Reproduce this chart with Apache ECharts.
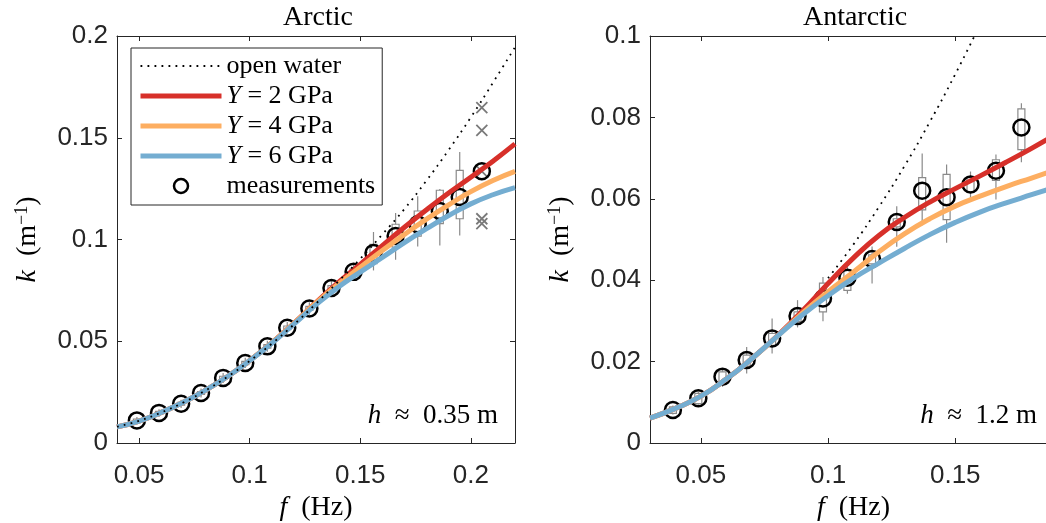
<!DOCTYPE html>
<html>
<head>
<meta charset="utf-8">
<script src="https://cdn.jsdelivr.net/npm/echarts@6/dist/echarts.min.js"></script>
<style>
  html, body { margin: 0; padding: 0; background: #fff; }
  #chart { width: 1046px; height: 523px; }
</style>
</head>
<body>
<div id="chart"></div>
<script>
// ---------- Arctic panel (h ~ 0.35 m) ----------
const arcticCurveFreq = [0.04, 0.05, 0.06, 0.07, 0.08, 0.09, 0.10, 0.11, 0.12, 0.13,
                         0.14, 0.15, 0.16, 0.17, 0.18, 0.19, 0.20, 0.21, 0.22];
const arcticOpenWater = [0.0080, 0.0109, 0.0150, 0.0199, 0.0258, 0.0326, 0.0403, 0.0488, 0.0582, 0.0685,
                         0.0793, 0.0905, 0.1025, 0.1150, 0.1290, 0.1440, 0.1600, 0.1770, 0.1945];
const arcticY2 = [0.0079, 0.0108, 0.0150, 0.0200, 0.0259, 0.0327, 0.0405, 0.0492, 0.0588, 0.0690,
                  0.0788, 0.0878, 0.0970, 0.1060, 0.1146, 0.1228, 0.1306, 0.1385, 0.1470];
const arcticY4 = [0.0079, 0.0108, 0.0150, 0.0200, 0.0259, 0.0327, 0.0405, 0.0492, 0.0588, 0.0688,
                  0.0780, 0.0864, 0.0946, 0.1025, 0.1100, 0.1170, 0.1235, 0.1290, 0.1335];
const arcticY6 = [0.0079, 0.0108, 0.0150, 0.0200, 0.0259, 0.0327, 0.0405, 0.0490, 0.0584, 0.0680,
                  0.0765, 0.0840, 0.0912, 0.0985, 0.1053, 0.1118, 0.1175, 0.1220, 0.1255];

const arcticMeasFreq = [0.049, 0.059, 0.069, 0.078, 0.088, 0.098, 0.108, 0.117, 0.127,
                        0.137, 0.147, 0.156, 0.166, 0.176, 0.186, 0.195, 0.205];
const arcticMeasK = [0.0111, 0.0148, 0.0193, 0.0246, 0.0320, 0.0393, 0.0475, 0.0566, 0.0661,
                     0.0762, 0.0841, 0.0934, 0.1017, 0.1075, 0.1140, 0.1209, 0.1335];
// box statistics per frequency bin: whisker low, lower quartile, upper quartile, whisker high
const arcticWhiskerLow = [0.0092, 0.0128, 0.0172, 0.0224, 0.0295, 0.0368, 0.0448, 0.0538, 0.0630,
                          0.0728, 0.0800, 0.0848, 0.0901, 0.0966, 0.0971, 0.1020, null];
const arcticQ1 = [0.0104, 0.0141, 0.0186, 0.0239, 0.0312, 0.0385, 0.0466, 0.0557, 0.0651,
                  0.0751, 0.0826, 0.0881, 0.0963, 0.1016, 0.1078, 0.1102, null];
const arcticQ3 = [0.0118, 0.0155, 0.0200, 0.0253, 0.0328, 0.0401, 0.0484, 0.0575, 0.0671,
                  0.0773, 0.0856, 0.0976, 0.1075, 0.1140, 0.1242, 0.1340, null];
const arcticWhiskerHigh = [0.0128, 0.0166, 0.0213, 0.0268, 0.0344, 0.0419, 0.0502, 0.0594, 0.0692,
                           0.0796, 0.0885, 0.1037, 0.1130, 0.1212, 0.1248, 0.1430, null];
const arcticOutlierFreq = [0.205, 0.205, 0.205, 0.205, 0.205];
const arcticOutlierK = [0.1648, 0.1536, 0.1335, 0.1102, 0.1078];

// ---------- Antarctic panel (h ~ 1.2 m) ----------
const antarcticCurveFreq = [0.03, 0.04, 0.05, 0.06, 0.07, 0.08, 0.09, 0.10, 0.11,
                            0.12, 0.13, 0.14, 0.15, 0.16, 0.17, 0.18, 0.19];
const antarcticY2 = [0.0061, 0.0085, 0.0115, 0.0157, 0.0207, 0.0263, 0.0325, 0.0392, 0.0455,
                     0.0510, 0.0554, 0.0592, 0.0625, 0.0657, 0.0690, 0.0724, 0.0760];
const antarcticY4 = [0.0061, 0.0085, 0.0115, 0.0157, 0.0207, 0.0262, 0.0320, 0.0372, 0.0420,
                     0.0470, 0.0514, 0.0551, 0.0582, 0.0607, 0.0630, 0.0651, 0.0672];
const antarcticY6 = [0.0061, 0.0085, 0.0115, 0.0157, 0.0207, 0.0262, 0.0315, 0.0362, 0.0405,
                     0.0442, 0.0478, 0.0512, 0.0542, 0.0568, 0.0590, 0.0610, 0.0630];
const antarcticOpenFreq = [0.10, 0.11, 0.12, 0.13, 0.14, 0.15, 0.16];
const antarcticOpenWater = [0.0405, 0.0488, 0.0580, 0.0680, 0.0789, 0.0906, 0.1031];

const antarcticMeasFreq = [0.039, 0.049, 0.0585, 0.068, 0.078, 0.088, 0.098, 0.1076,
                           0.1173, 0.127, 0.137, 0.1466, 0.156, 0.166, 0.176];
const antarcticMeasK = [0.0081, 0.0110, 0.0163, 0.0204, 0.0257, 0.0312, 0.0355, 0.0406,
                        0.0452, 0.0543, 0.0620, 0.0604, 0.0635, 0.0669, 0.0775];
const antarcticWhiskerLow = [0.0070, 0.0094, 0.0138, 0.0171, 0.0220, 0.0284, 0.0299, 0.0367,
                             0.0392, 0.0482, 0.0535, 0.0492, 0.0596, 0.0598, 0.0690];
const antarcticQ1 = [0.0073, 0.0097, 0.0151, 0.0189, 0.0240, 0.0298, 0.0322, 0.0375,
                     0.0440, 0.0531, 0.0573, 0.0549, 0.0617, 0.0645, 0.0721];
const antarcticQ3 = [0.0089, 0.0122, 0.0175, 0.0216, 0.0269, 0.0322, 0.0393, 0.0425,
                     0.0462, 0.0551, 0.0652, 0.0660, 0.0652, 0.0696, 0.0821];
const antarcticWhiskerHigh = [0.0092, 0.0126, 0.0183, 0.0236, 0.0306, 0.0351, 0.0408, 0.0444,
                              0.0483, 0.0582, 0.0711, 0.0684, 0.0667, 0.0709, 0.0835];

// ---------- axis ticks ----------
const arcticFreqTicks = [0.05, 0.1, 0.15, 0.2];
const antarcticFreqTicks = [0.05, 0.1, 0.15];

// ---------- styling ----------
const SERIF = '"Liberation Serif", "DejaVu Serif", serif';
const SANS = '"Liberation Sans", Arial, Helvetica, sans-serif';
const AXIS_COLOR = '#262626';
const RED = '#d7302a';
const ORANGE = '#fdae61';
const BLUE = '#74add1';
const BOX_GRAY = '#8a8a8a';
const DOTS = [1.8, 5.2];

const NAMES = {
  open: 'open water',
  y2: 'Y = 2 GPa',
  y4: 'Y = 4 GPa',
  y6: 'Y = 6 GPa',
  meas: 'measurements'
};
const legendText = {
  'open water': 'open water',
  'Y = 2 GPa': '{i|Y} = 2 GPa',
  'Y = 4 GPa': '{i|Y} = 4 GPa',
  'Y = 6 GPa': '{i|Y} = 6 GPa',
  'measurements': 'measurements'
};

const pairs = (xs, ys) => xs.map((x, i) => [x, ys[i]]);
function boxData(freq, lo, q1, q3, hi) {
  const out = [];
  freq.forEach((f, i) => {
    if (lo[i] != null) out.push([f, lo[i], q1[i], q3[i], hi[i]]);
  });
  return out;
}

// box-and-whisker glyph for one frequency bin
function renderBox(params, api) {
  const f = api.value(0);
  const pLo = api.coord([f, api.value(1)]);
  const pQ1 = api.coord([f, api.value(2)]);
  const pQ3 = api.coord([f, api.value(3)]);
  const pHi = api.coord([f, api.value(4)]);
  const half = 3.5;
  const st = { stroke: BOX_GRAY, lineWidth: 1.2, fill: 'none' };
  return {
    type: 'group',
    children: [
      { type: 'line', shape: { x1: pLo[0], y1: pLo[1], x2: pQ1[0], y2: pQ1[1] }, style: st },
      { type: 'line', shape: { x1: pQ3[0], y1: pQ3[1], x2: pHi[0], y2: pHi[1] }, style: st },
      { type: 'rect', shape: { x: pQ1[0] - half, y: pQ3[1], width: 2 * half, height: pQ1[1] - pQ3[1] }, style: st }
    ]
  };
}

const axisLineStyle = { color: AXIS_COLOR, width: 1 };
const tickLabelStyle = { fontFamily: SANS, fontSize: 26, color: AXIS_COLOR };
const nameRich = {
  i: { fontFamily: SERIF, fontStyle: 'italic', fontSize: 28, color: '#000' },
  s: { fontFamily: SERIF, fontSize: 18, color: '#000', verticalAlign: 'top', lineHeight: 18 }
};
const fmtFreq = v => String(+Number(v).toFixed(3));

function xAxes(gridIndex, min, max, ticks) {
  return [
    {
      type: 'value', gridIndex, min, max, position: 'bottom',
      axisLine: { onZero: false, lineStyle: axisLineStyle },
      axisTick: { inside: true, length: 5, customValues: ticks, lineStyle: axisLineStyle },
      axisLabel: Object.assign({ customValues: ticks, margin: 20, formatter: fmtFreq }, tickLabelStyle),
      splitLine: { show: false },
      name: '{i|f}\u2002(Hz)', nameLocation: 'middle', nameGap: 50,
      nameTextStyle: { fontFamily: SERIF, fontSize: 28, color: '#000', rich: nameRich }
    },
    {
      type: 'value', gridIndex, min, max, position: 'top',
      axisLine: { onZero: false, lineStyle: axisLineStyle },
      axisTick: { inside: true, length: 5, customValues: ticks, lineStyle: axisLineStyle },
      axisLabel: { show: false },
      splitLine: { show: false }
    }
  ];
}
function yAxes(gridIndex, max, interval) {
  return [
    {
      type: 'value', gridIndex, min: 0, max, interval, position: 'left',
      axisLine: { show: true, onZero: false, lineStyle: axisLineStyle },
      axisTick: { show: true, inside: true, length: 5, lineStyle: axisLineStyle },
      axisLabel: Object.assign({ margin: 9 }, tickLabelStyle),
      splitLine: { show: false },
      name: '{i|k}\u2002(m{s|\u22121})', nameLocation: 'middle', nameGap: 74, nameRotate: 90,
      nameTextStyle: { fontFamily: SERIF, fontSize: 28, color: '#000', lineHeight: 30, rich: nameRich }
    },
    {
      type: 'value', gridIndex, min: 0, max, interval, position: 'right',
      axisLine: { show: true, onZero: false, lineStyle: axisLineStyle },
      axisTick: { show: true, inside: true, length: 5, lineStyle: axisLineStyle },
      axisLabel: { show: false },
      splitLine: { show: false }
    }
  ];
}

function panelSeries(xi, yi, c) {
  const common = { xAxisIndex: xi, yAxisIndex: yi, silent: true };
  const curve = (name, freq, vals, color) => Object.assign({
    type: 'line', name, data: pairs(freq, vals), smooth: true,
    symbol: 'none', showSymbol: false,
    lineStyle: { color, width: 5, opacity: 1 }, itemStyle: { color }
  }, common);
  return [
    curve(NAMES.y2, c.curveFreq, c.y2, RED),
    curve(NAMES.y4, c.curveFreq, c.y4, ORANGE),
    curve(NAMES.y6, c.curveFreq, c.y6, BLUE),
    Object.assign({
      type: 'custom', renderItem: renderBox, data: c.boxes,
      encode: { x: 0, y: [1, 2, 3, 4] }
    }, common),
    Object.assign({
      type: 'scatter', data: c.outliers || [],
      symbol: 'path://M0,0L10,10M10,0L0,10', symbolSize: 11,
      itemStyle: { color: 'transparent', borderColor: '#7a7a7a', borderWidth: 1.8, opacity: 1 }
    }, common),
    Object.assign({
      type: 'line', name: NAMES.open, data: pairs(c.openFreq, c.open), smooth: true,
      symbol: 'none', showSymbol: false,
      lineStyle: { color: '#000', width: 1.8, type: DOTS, opacity: 1 }, itemStyle: { color: '#000' }
    }, common),
    Object.assign({
      type: 'scatter', name: NAMES.meas, data: pairs(c.measFreq, c.measK),
      symbol: 'circle', symbolSize: 16,
      itemStyle: { color: 'transparent', borderColor: '#000', borderWidth: 2.5, opacity: 1 }
    }, common)
  ];
}

const arctic = {
  curveFreq: arcticCurveFreq, y2: arcticY2, y4: arcticY4, y6: arcticY6,
  openFreq: arcticCurveFreq, open: arcticOpenWater,
  measFreq: arcticMeasFreq, measK: arcticMeasK,
  boxes: boxData(arcticMeasFreq, arcticWhiskerLow, arcticQ1, arcticQ3, arcticWhiskerHigh),
  outliers: pairs(arcticOutlierFreq, arcticOutlierK)
};
const antarctic = {
  curveFreq: antarcticCurveFreq, y2: antarcticY2, y4: antarcticY4, y6: antarcticY6,
  openFreq: antarcticOpenFreq, open: antarcticOpenWater,
  measFreq: antarcticMeasFreq, measK: antarcticMeasK,
  boxes: boxData(antarcticMeasFreq, antarcticWhiskerLow, antarcticQ1, antarcticQ3, antarcticWhiskerHigh),
  outliers: []
};

function label(x, y, text, align, size) {
  return {
    type: 'text', x, y, silent: true,
    style: {
      text, fontFamily: SERIF, fontSize: size, fill: '#000',
      align, textAlign: align, verticalAlign: 'middle', textVerticalAlign: 'middle',
      rich: { i: { fontFamily: SERIF, fontStyle: 'italic', fontSize: size, fill: '#000' } }
    }
  };
}

const chart = echarts.init(document.getElementById('chart'), null, { renderer: 'canvas' });
chart.setOption({
  animation: false,
  backgroundColor: '#fff',
  grid: [
    { left: 117, top: 36, width: 398, height: 407, outerBoundsMode: 'none', containLabel: false },
    { left: 650, top: 36, width: 407, height: 407, outerBoundsMode: 'none', containLabel: false }
  ],
  xAxis: [].concat(xAxes(0, 0.04, 0.22, arcticFreqTicks), xAxes(1, 0.03, 0.19, antarcticFreqTicks)),
  yAxis: [].concat(yAxes(0, 0.2, 0.05), yAxes(1, 0.1, 0.02)),
  legend: {
    orient: 'vertical', left: 131, top: 48,
    itemWidth: 81, itemHeight: 14, itemGap: 4,
    padding: [5, 7, 6, 7],
    backgroundColor: '#fff', borderColor: AXIS_COLOR, borderWidth: 1, borderRadius: 0,
    selectedMode: false,
    formatter: name => legendText[name],
    textStyle: {
      fontFamily: SERIF, fontSize: 26, color: '#000', lineHeight: 24,
      rich: { i: { fontFamily: SERIF, fontStyle: 'italic', fontSize: 26, color: '#000', lineHeight: 24 } }
    },
    data: [
      { name: NAMES.open, itemStyle: { opacity: 0 }, lineStyle: { color: '#000', width: 1.8, type: DOTS } },
      { name: NAMES.y2, itemStyle: { opacity: 0 }, lineStyle: { color: RED, width: 5 } },
      { name: NAMES.y4, itemStyle: { opacity: 0 }, lineStyle: { color: ORANGE, width: 5 } },
      { name: NAMES.y6, itemStyle: { opacity: 0 }, lineStyle: { color: BLUE, width: 5 } },
      { name: NAMES.meas, itemStyle: { color: 'transparent', borderColor: '#000', borderWidth: 2.5, opacity: 1 } }
    ]
  },
  graphic: [
    label(318, 18, 'Arctic', 'center', 28),
    label(855, 18, 'Antarctic', 'center', 28),
    label(498, 416, '{i|h}\u2002\u2248\u20020.35 m', 'right', 27),
    label(1037, 416, '{i|h}\u2002\u2248\u20021.2 m', 'right', 27)
  ],
  series: [].concat(panelSeries(0, 0, arctic), panelSeries(2, 2, antarctic))
});
</script>
</body>
</html>
